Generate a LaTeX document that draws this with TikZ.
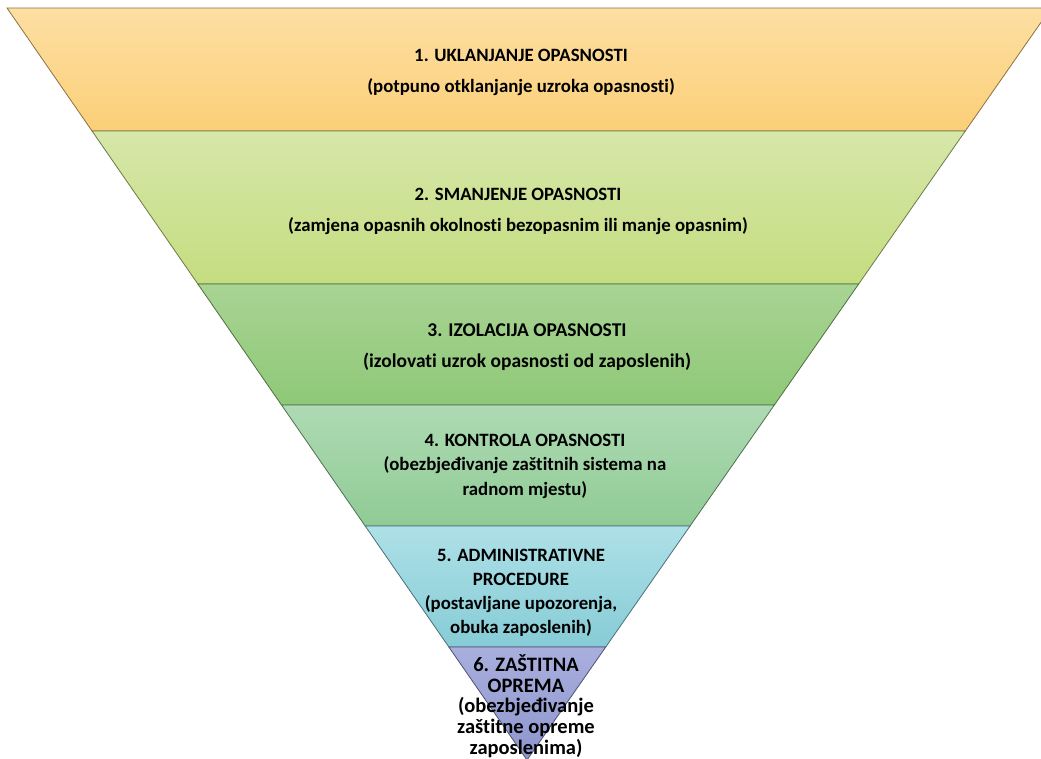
\documentclass[tikz,border=0pt]{standalone}
\usepackage{fontspec}
\setmainfont{Carlito}[Ligatures=NoCommon]
\usetikzlibrary{calc}
\definecolor{aTop}{HTML}{FDDFA3}\definecolor{aBot}{HTML}{FBCF78}
\definecolor{bTop}{HTML}{D6E7A9}\definecolor{bBot}{HTML}{C5DD80}
\definecolor{cTop}{HTML}{A8D493}\definecolor{cBot}{HTML}{8FC878}
\definecolor{dTop}{HTML}{AEDAB3}\definecolor{dBot}{HTML}{90CB95}
\definecolor{eTop}{HTML}{AEE0E7}\definecolor{eBot}{HTML}{86CCD6}
\definecolor{fTop}{HTML}{A9AFDD}\definecolor{fBot}{HTML}{8D96CE}
\tikzset{
  bandtext/.style 2 args={align=center, font=\bfseries\fontsize{#1}{#2}\selectfont, text=black, inner sep=0pt},
}
\begin{document}
\begin{tikzpicture}[x=1pt,y=-1pt]
\useasboundingbox (0,0) rectangle (1041,758);
\clip (0,0) rectangle (1041,758);
% outer triangle corners
\coordinate (TL) at (7,8);
\coordinate (TR) at (1051,8);
\coordinate (A) at (527,760);
% band boundaries along the sides
\foreach \n/\t in {0/0,1/0.1636,2/0.3670,3/0.5279,4/0.6888,5/0.8497}{
  \coordinate (L\n) at ($(TL)!\t!(A)$);
  \coordinate (R\n) at ($(TR)!\t!(A)$);
}
% bands, top to bottom
\foreach \i/\j/\c in {0/1/a,1/2/b,2/3/c,3/4/d,4/5/e}{
  \draw[line width=0.8pt, draw=\c Bot!55!black, top color=\c Top, bottom color=\c Bot]
    (L\i) -- (R\i) -- (R\j) -- (L\j) -- cycle;
}
\draw[line width=0.8pt, draw=fBot!55!black, top color=fTop, bottom color=fBot]
  (L5) -- (R5) -- (A) -- cycle;
% labels
\node[bandtext={18.8}{31}] (t1) at (521,72.5) {1. UKLANJANJE OPASNOSTI\\(potpuno otklanjanje uzroka opasnosti)};
\node[bandtext={18.8}{31}] (t2) at (518,211.5) {2. SMANJENJE OPASNOSTI\\(zamjena opasnih okolnosti bezopasnim ili manje opasnim)};
\node[bandtext={19.5}{31}] (t3) at (527,347.5) {3. IZOLACIJA OPASNOSTI\\(izolovati uzrok opasnosti od zaposlenih)};
\node[bandtext={18.8}{24.5}] (t4) at (525,466) {4. KONTROLA OPASNOSTI\\(obezbjeđivanje zaštitnih sistema na\\radnom mjestu)};
\node[bandtext={18.8}{24}] (t5) at (521,593) {5. ADMINISTRATIVNE\\PROCEDURE\\(postavljane upozorenja,\\obuka zaposlenih)};
\node[bandtext={20.5}{20.6}] (t6) at (526,706) {6. ZAŠTITNA\\OPREMA\\(obezbjeđivanje\\zaštitne opreme\\zaposlenima)};
\end{tikzpicture}
\end{document}
